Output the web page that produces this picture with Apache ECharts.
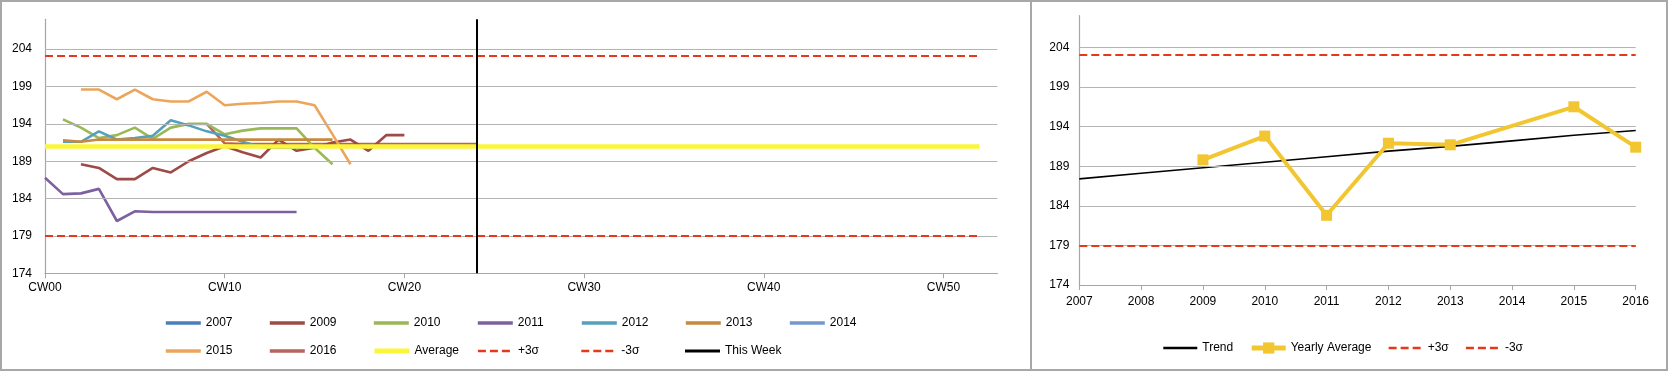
<!DOCTYPE html>
<html>
<head>
<meta charset="utf-8">
<script src="https://cdn.jsdelivr.net/npm/echarts@6/dist/echarts.min.js"></script>
<style>
  html, body { margin: 0; padding: 0; background: #fff; }
  #chart { width: 1669px; height: 372px; }
</style>
</head>
<body>
<div id="chart"></div>
<script>
// ---------- Data ----------
const weeks = ['CW00','CW01','CW02','CW03','CW04','CW05','CW06','CW07','CW08','CW09',
  'CW10','CW11','CW12','CW13','CW14','CW15','CW16','CW17','CW18','CW19',
  'CW20','CW21','CW22','CW23','CW24','CW25','CW26','CW27','CW28','CW29',
  'CW30','CW31','CW32','CW33','CW34','CW35','CW36','CW37','CW38','CW39',
  'CW40','CW41','CW42','CW43','CW44','CW45','CW46','CW47','CW48','CW49',
  'CW50','CW51','CW52','CW53'];
const years = ['2007','2008','2009','2010','2011','2012','2013','2014','2015','2016'];
const yTicks = [179, 184, 189, 194, 199, 204];

const w2007 = [];
const w2009 = [null, null, 188.6, 188.1, 186.6, 186.6, 188.1, 187.5, 189.0, 190.1, 191.0,
  190.2, 189.5, 191.9, 190.4, 190.8, 191.5, 191.9, 190.4, 192.5, 192.5];
const w2010 = [null, 194.6, 193.5, 192.1, 192.5, 193.5, 192.0, 193.5, 194.0, 194.0, 192.6,
  193.1, 193.4, 193.4, 193.4, 190.8, 188.6];
const w2011 = [186.8, 184.6, 184.7, 185.3, 181.0, 182.3, 182.2, 182.2, 182.2, 182.2, 182.2,
  182.2, 182.2, 182.2, 182.2];
const w2012 = [null, 191.6, 191.6, 193.0, 191.9, 192.1, 192.4, 194.5, 193.8, 193.0, 192.4,
  191.6, 190.9, 190.8, 190.8, 190.8];
const w2013 = [null, 191.8, 191.6, 191.9, 191.9, 191.9, 191.9, 191.9, 191.9, 191.9, 191.9,
  191.9, 191.9, 191.9, 191.9, 191.9, 191.9];
const w2014 = [];
const w2015 = [null, null, 198.6, 198.6, 197.3, 198.6, 197.3, 197.0, 197.0, 198.3, 196.5,
  196.7, 196.8, 197.0, 197.0, 196.5, 192.6, 188.6];
const w2016 = [null, null, null, null, null, null, null, null, null, 194.0, 191.4,
  191.3, 191.3, 191.3, 191.3, 191.3, 191.3, 191.3, 191.3, 191.3, 191.3,
  191.3, 191.3, 191.3, 191.3];
const weeklyAverage = 191.07;
const plus3Sigma = 203.1;
const minus3Sigma = 179.0;
const thisWeek = 'CW24';
const lastWeek = 'CW52';

const trend = [187.4, 188.1, 188.8, 189.5, 190.2, 190.9, 191.5, 192.2, 192.9, 193.5];
const yearlyAverage = [null, null, 189.8, 192.8, 182.8, 191.9, 191.7, null, 196.5, 191.4];

// ---------- Styles ----------
const FONT = 'Liberation Sans';
const GRID_C = '#B4B4B4';
const AXIS_C = '#A6A6A6';
const RED = '#E5391C';
const colors = {
  '2007': '#4A7EBB', '2009': '#9E4A46', '2010': '#98B954', '2011': '#7D609F',
  '2012': '#55A0BA', '2013': '#C6893F', '2014': '#7398CC', '2015': '#EDA55C',
  '2016': '#BA625E'
};

function yearSeries(name, data) {
  return {
    name, type: 'line', xAxisIndex: 0, yAxisIndex: 0, data,
    symbol: 'none', smooth: false, z: 3,
    lineStyle: { color: colors[name], width: 2.6 },
    itemStyle: { color: colors[name] }
  };
}
function gridLines(xi) {
  return {
    type: 'line', xAxisIndex: xi, yAxisIndex: xi, data: [], z: 1, silent: true,
    markLine: {
      silent: true, symbol: ['none', 'none'], label: { show: false }, animation: false,
      lineStyle: { color: GRID_C, type: 'solid', width: 1.2 },
      data: yTicks.map(v => ({ yAxis: v }))
    }
  };
}
function hLine(name, xi, value, x0, x1, style, z) {
  return {
    name, type: 'line', xAxisIndex: xi, yAxisIndex: xi, data: [], z,
    symbol: 'none',
    lineStyle: style, itemStyle: { color: style.color },
    markLine: {
      silent: true, symbol: ['none', 'none'], label: { show: false }, animation: false,
      lineStyle: style,
      data: [[{ coord: [x0, value] }, { coord: [x1, value] }]]
    }
  };
}
const dashStyle = { color: RED, width: 2.2, type: [8, 4] };

const yAxisCommon = {
  type: 'value', min: 174, max: 208, interval: 5,
  axisLine: { show: true, lineStyle: { color: AXIS_C, width: 1.2 } },
  axisTick: { show: false },
  splitLine: { show: false },
  axisLabel: { showMaxLabel: false, color: '#000', fontSize: 12, fontFamily: FONT }
};

const legendText = { color: '#000', fontSize: 12, fontFamily: FONT, lineHeight: 14 };
const noSymbol = { opacity: 0 };
const thick = { width: 3.6 };
const dashLeg = { width: 2.4 };

const option = {
  animation: false,
  backgroundColor: '#fff',
  textStyle: { fontFamily: FONT },
  graphic: [
    { type: 'rect', z: -1, shape: { x: 1, y: 1, width: 1666, height: 369 },
      style: { fill: 'none', stroke: '#A8A8A8', lineWidth: 2 } },
    { type: 'line', z: -1, shape: { x1: 1031, y1: 1, x2: 1031, y2: 370 },
      style: { stroke: '#A8A8A8', lineWidth: 2 } }
  ],
  grid: [
    { left: 45, top: 19.3, right: 671.6, bottom: 98.7 },
    { left: 1079.3, top: 15.7, right: 33.3, bottom: 87 }
  ],
  xAxis: [
    { type: 'category', gridIndex: 0, data: weeks, boundaryGap: false,
      axisLine: { lineStyle: { color: AXIS_C, width: 1.2 } },
      axisTick: { show: true, interval: 9, length: 5, lineStyle: { color: AXIS_C } },
      axisLabel: { interval: 9, margin: 8, color: '#000', fontSize: 12, fontFamily: FONT },
      splitLine: { show: false } },
    { type: 'category', gridIndex: 1, data: years, boundaryGap: false,
      axisLine: { lineStyle: { color: AXIS_C, width: 1.2 } },
      axisTick: { show: true, interval: 0, length: 5, lineStyle: { color: AXIS_C } },
      axisLabel: { interval: 0, margin: 11, color: '#000', fontSize: 12, fontFamily: FONT },
      splitLine: { show: false } }
  ],
  yAxis: [
    Object.assign({ gridIndex: 0 }, yAxisCommon, { axisLabel: Object.assign({}, yAxisCommon.axisLabel, { margin: 13 }) }),
    Object.assign({ gridIndex: 1 }, yAxisCommon, { axisLabel: Object.assign({}, yAxisCommon.axisLabel, { margin: 10 }) })
  ],
  legend: [
    { left: 164, top: 316, padding: 0, itemWidth: 35, itemHeight: 14, itemGap: 0.2,
      itemStyle: noSymbol, lineStyle: thick,
      textStyle: Object.assign({ width: 62 }, legendText),
      data: ['2007', '2009', '2010', '2011', '2012', '2013', '2014'] },
    { left: 164, top: 344, padding: 0, itemWidth: 35, itemHeight: 14, itemGap: 0.2,
      itemStyle: noSymbol, lineStyle: thick,
      textStyle: Object.assign({ width: 62 }, legendText),
      data: ['2015', '2016',
        { name: 'Average', lineStyle: { width: 5 } },
        { name: '+3σ', lineStyle: dashLeg },
        { name: '-3σ', lineStyle: dashLeg },
        { name: 'This Week', lineStyle: { width: 3 } }] },
    { left: 1162, top: 341, padding: 0, itemWidth: 34, itemHeight: 14, itemGap: 16,
      itemStyle: noSymbol,
      textStyle: legendText,
      data: [{ name: 'Trend', lineStyle: { width: 2.6 } },
        { name: 'Yearly Average', itemStyle: { opacity: 1 }, lineStyle: { width: 5 } },
        { name: '+3σ', lineStyle: dashLeg },
        { name: '-3σ', lineStyle: dashLeg }] }
  ],
  series: [
    gridLines(0),
    gridLines(1),
    yearSeries('2007', w2007),
    yearSeries('2016', w2016),
    yearSeries('2009', w2009),
    yearSeries('2010', w2010),
    yearSeries('2011', w2011),
    yearSeries('2012', w2012),
    yearSeries('2013', w2013),
    yearSeries('2014', w2014),
    yearSeries('2015', w2015),
    hLine('Average', 0, weeklyAverage, weeks[0], lastWeek, { color: '#FBF63A', width: 4.5, type: 'solid', cap: 'butt' }, 4),
    hLine('+3σ', 0, plus3Sigma, weeks[0], lastWeek, dashStyle, 5),
    hLine('-3σ', 0, minus3Sigma, weeks[0], lastWeek, dashStyle, 5),
    { name: 'This Week', type: 'line', xAxisIndex: 0, yAxisIndex: 0, data: [], z: 6,
      symbol: 'none', lineStyle: { color: '#000', width: 2 }, itemStyle: { color: '#000' },
      markLine: { silent: true, symbol: ['none', 'none'], label: { show: false }, animation: false,
        lineStyle: { color: '#000', width: 2, type: 'solid' },
        data: [{ xAxis: thisWeek }] } },
    hLine('+3σ', 1, plus3Sigma, years[0], years[years.length - 1], dashStyle, 3),
    hLine('-3σ', 1, minus3Sigma, years[0], years[years.length - 1], dashStyle, 3),
    { name: 'Trend', type: 'line', xAxisIndex: 1, yAxisIndex: 1, data: trend, z: 4,
      symbol: 'none', lineStyle: { color: '#000', width: 1.6 }, itemStyle: { color: '#000' } },
    { name: 'Yearly Average', type: 'line', xAxisIndex: 1, yAxisIndex: 1, data: yearlyAverage, z: 5,
      connectNulls: true, symbol: 'rect', symbolSize: 11, showAllSymbol: true,
      lineStyle: { color: '#F2C630', width: 4 }, itemStyle: { color: '#F2C630' } }
  ]
};

const chart = echarts.init(document.getElementById('chart'), null, { renderer: 'canvas' });
chart.setOption(option);
</script>
</body>
</html>
